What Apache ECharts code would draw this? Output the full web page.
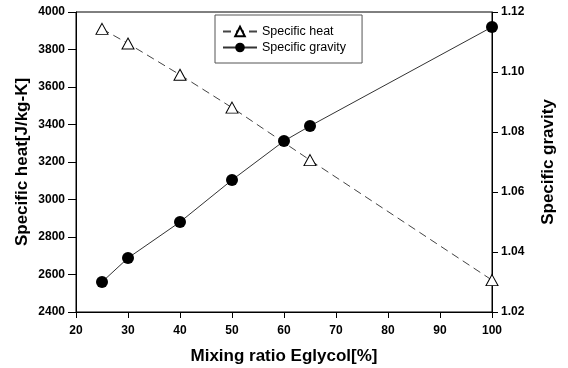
<!DOCTYPE html>
<html>
<head>
<meta charset="utf-8">
<script src="https://cdn.jsdelivr.net/npm/echarts@6/dist/echarts.min.js"></script>
<style>html,body{margin:0;padding:0;background:#fff}#c{width:568px;height:368px}</style>
</head>
<body>
<div id="c"></div>
<script>
var heatX = [25, 30, 40, 50, 65, 100];
var heatY = [3910, 3832, 3665, 3490, 3210, 2570];
var gravX = [25, 30, 40, 50, 60, 65, 100];
var gravY = [1.030, 1.038, 1.050, 1.064, 1.077, 1.082, 1.115];
var xTicks = [20, 30, 40, 50, 60, 70, 80, 90, 100];
var leftTicks = [2400, 2600, 2800, 3000, 3200, 3400, 3600, 3800, 4000];
var rightTicks = [1.02, 1.04, 1.06, 1.08, 1.10, 1.12];

var FONT = 'Liberation Sans';
var chart = echarts.init(document.getElementById('c'), null, {renderer: 'canvas'});
var tickLbl = {fontFamily: FONT, fontWeight: 'bold', fontSize: 12, color: '#000'};
var nameStyle = {fontFamily: FONT, fontWeight: 'bold', fontSize: 17, color: '#000'};
chart.setOption({
  animation: false,
  backgroundColor: '#fff',
  grid: {left: 76, right: 76, top: 12, bottom: 56, show: true, borderColor: '#000', borderWidth: 1,
         containLabel: false, outerBoundsMode: 'none'},
  legend: {
    left: 215, top: 15,
    orient: 'vertical', itemGap: 3, itemWidth: 34, itemHeight: 12,
    padding: [10, 16, 9, 7],
    borderColor: '#555', borderWidth: 1,
    textStyle: {fontFamily: FONT, fontSize: 12.5, color: '#000'},
    data: ['Specific heat', 'Specific gravity']
  },
  xAxis: {
    type: 'value', min: xTicks[0], max: xTicks[xTicks.length - 1], interval: 10,
    name: 'Mixing ratio Eglycol[%]', nameLocation: 'middle', nameGap: 36, nameMoveOverlap: false, nameTextStyle: nameStyle,
    axisLine: {lineStyle: {color: '#000', width: 1}},
    axisTick: {show: true, inside: false, length: 6, lineStyle: {color: '#000'}},
    axisLabel: Object.assign({margin: 13}, tickLbl),
    splitLine: {show: false}
  },
  yAxis: [{
    type: 'value', min: leftTicks[0], max: leftTicks[leftTicks.length - 1], interval: 200,
    name: 'Specific heat[J/kg-K]', nameLocation: 'middle', nameGap: 45, nameMoveOverlap: false, nameRotate: 90, nameTextStyle: nameStyle,
    axisLine: {show: true, lineStyle: {color: '#000', width: 1}},
    axisTick: {show: true, length: 8, lineStyle: {color: '#000'}},
    axisLabel: Object.assign({margin: 11, formatter: function (v) { return String(v); }}, tickLbl),
    splitLine: {show: false}
  }, {
    type: 'value', min: rightTicks[0], max: rightTicks[rightTicks.length - 1], interval: 0.02,
    position: 'right',
    name: 'Specific gravity', nameLocation: 'middle', nameGap: 48, nameMoveOverlap: false, nameRotate: 90, nameTextStyle: nameStyle,
    axisLine: {show: true, lineStyle: {color: '#000', width: 1}},
    axisTick: {show: true, length: 6, lineStyle: {color: '#000'}},
    axisLabel: Object.assign({margin: 9, formatter: function (v) { return v.toFixed(2); }}, tickLbl),
    splitLine: {show: false}
  }],
  series: [{
    name: 'Specific heat', type: 'line', yAxisIndex: 0,
    data: heatX.map(function (x, i) { return [x, heatY[i]]; }),
    symbol: 'triangle', symbolSize: [12, 11],
    itemStyle: {color: '#fff', borderColor: '#000', borderWidth: 1},
    lineStyle: {color: '#444', width: 1, type: [8, 5]},
    z: 2
  }, {
    name: 'Specific gravity', type: 'line', yAxisIndex: 1,
    data: gravX.map(function (x, i) { return [x, gravY[i]]; }),
    symbol: 'circle', symbolSize: 12,
    itemStyle: {color: '#000', borderColor: '#000', borderWidth: 0},
    lineStyle: {color: '#333', width: 1},
    z: 3
  }]
});
</script>
</body>
</html>
